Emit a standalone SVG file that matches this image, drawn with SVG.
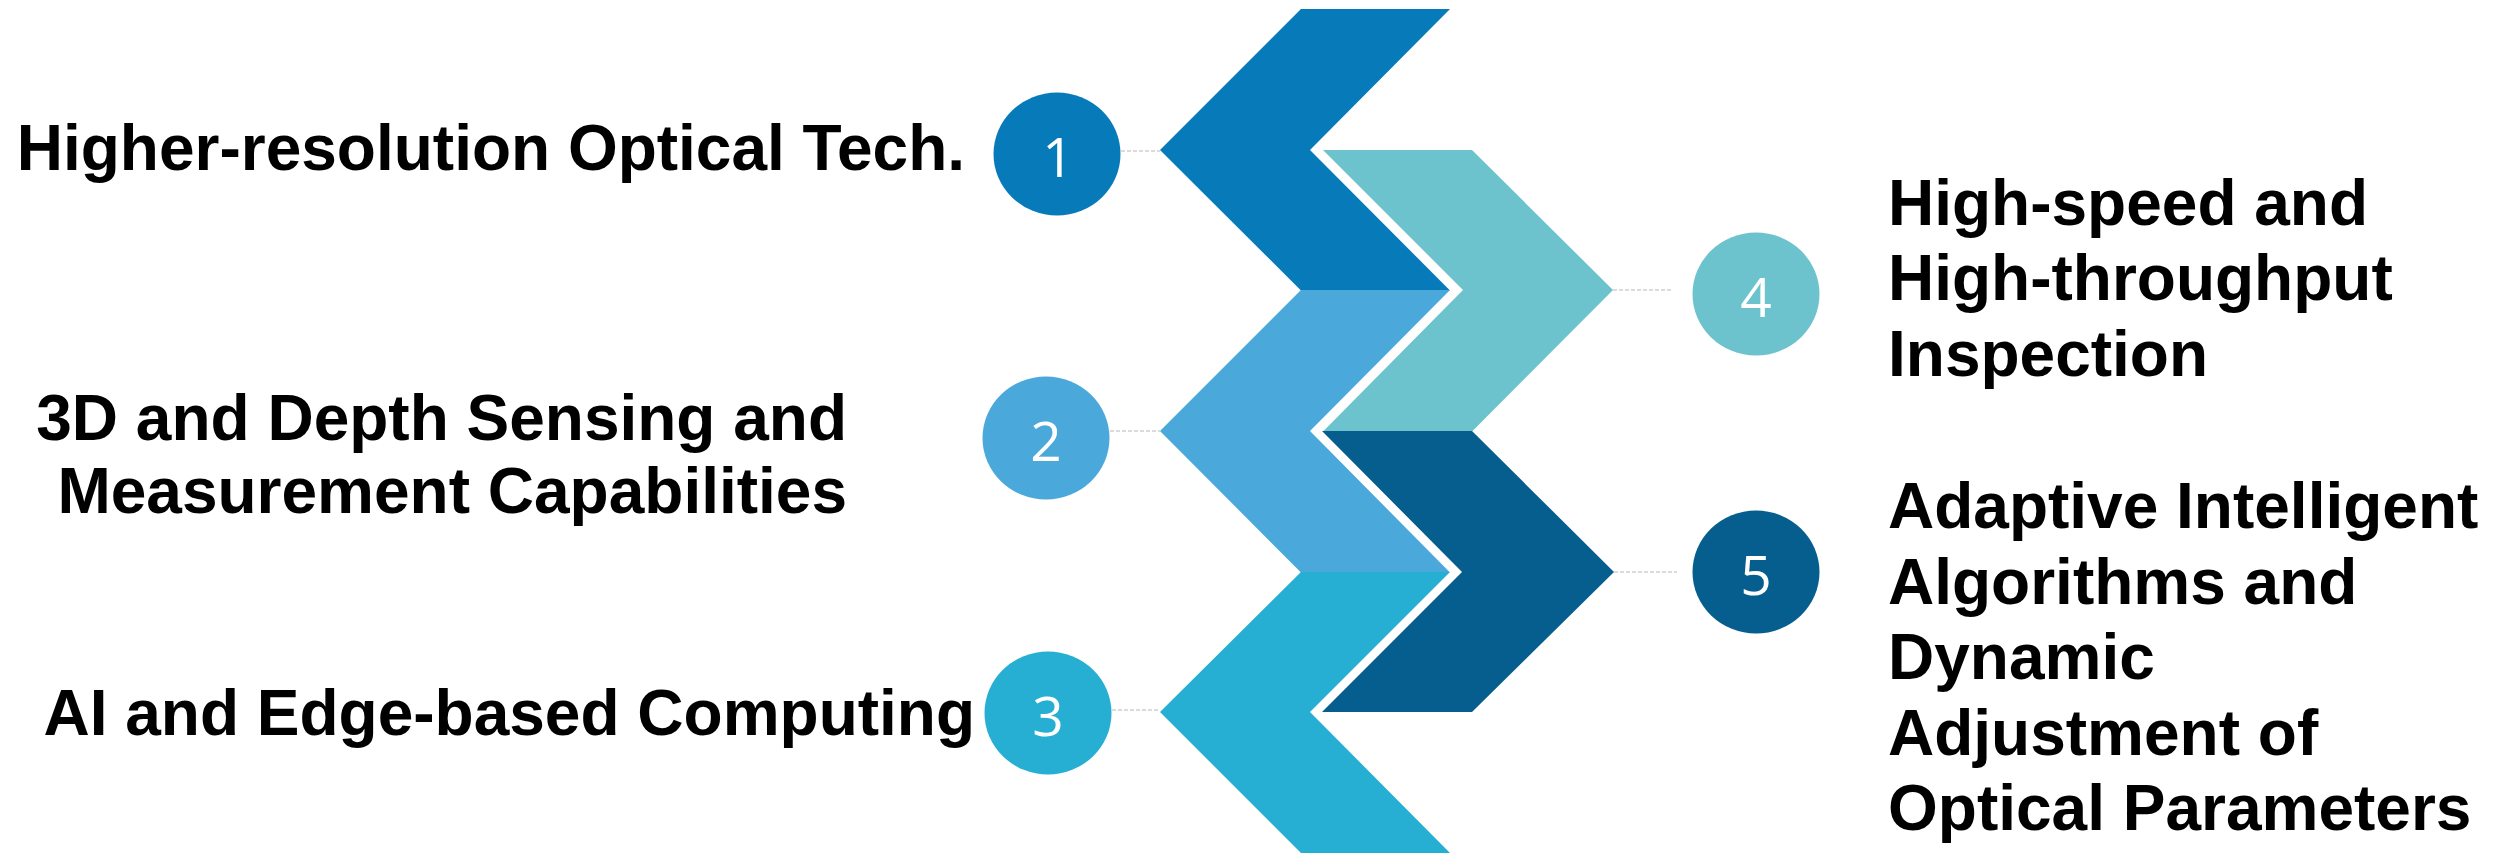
<svg xmlns="http://www.w3.org/2000/svg" width="2514" height="854" viewBox="0 0 2514 854">
<style>
.lbl{font-family:"Liberation Sans",Arial,sans-serif;font-weight:bold;font-size:64px;fill:#000}
.num{font-family:"Open Sans","Noto Sans",sans-serif;font-size:55px;fill:#fff;text-anchor:middle}
.conn{stroke:#D0D0D0;stroke-width:1.5;stroke-dasharray:4 2;fill:none}
</style>
<rect width="2514" height="854" fill="#fff"/>
<g id="connectors">
<line class="conn" x1="1121" y1="151" x2="1160" y2="151"/>
<line class="conn" x1="1110" y1="431" x2="1160" y2="431"/>
<line class="conn" x1="1112" y1="710" x2="1160" y2="710"/>
<line class="conn" x1="1613" y1="290" x2="1672" y2="290"/>
<line class="conn" x1="1614" y1="572" x2="1677" y2="572"/>
</g>
<g id="chevron1"><polygon fill="#077ABA" points="1301,9 1450,9 1310,150 1450,290.5 1301,290.5 1160,150"/></g>
<g id="chevron2"><polygon fill="#4BA8DB" points="1301,290 1450,290 1310,431 1450,572.5 1301,572.5 1160,431"/></g>
<g id="chevron3"><polygon fill="#26AFD2" points="1301,572 1450,572 1310,712 1450,853 1301,853 1160,712"/></g>
<g id="chevron4"><polygon fill="#6CC3CD" points="1323,150 1472,150 1613,290 1472,431.5 1323,431.5 1463,290"/></g>
<g id="chevron5"><polygon fill="#065E8E" points="1322,431 1472,431 1614,572 1472,712 1322,712 1462,572"/></g>
<g id="node1">
<ellipse cx="1057" cy="154" rx="63.5" ry="61.5" fill="#077ABA"/>
<text class="num" x="1058" y="177">1</text>
<text class="lbl" x="965" y="170" text-anchor="end">Higher-resolution Optical Tech.</text>
</g>
<g id="node2">
<ellipse cx="1046" cy="438" rx="63.5" ry="61.5" fill="#4BA8DB"/>
<text class="num" x="1046" y="461">2</text>
<text class="lbl" x="847" y="440" text-anchor="end">3D and Depth Sensing and</text>
<text class="lbl" x="847" y="513" text-anchor="end">Measurement Capabilities</text>
</g>
<g id="node3">
<ellipse cx="1048" cy="713" rx="63.5" ry="61.5" fill="#26AFD2"/>
<text class="num" x="1048" y="736">3</text>
<text class="lbl" x="975" y="735" text-anchor="end">AI and Edge-based Computing</text>
</g>
<g id="node4">
<ellipse cx="1756" cy="294" rx="63.5" ry="61.5" fill="#6CC3CD"/>
<text class="num" x="1756" y="317">4</text>
<text class="lbl" x="1888" y="225">High-speed and</text>
<text class="lbl" x="1888" y="300">High-throughput</text>
<text class="lbl" x="1888" y="376">Inspection</text>
</g>
<g id="node5">
<ellipse cx="1756" cy="572" rx="63.5" ry="61.5" fill="#065E8E"/>
<text class="num" x="1756" y="595">5</text>
<text class="lbl" x="1888" y="528">Adaptive Intelligent</text>
<text class="lbl" x="1888" y="604">Algorithms and</text>
<text class="lbl" x="1888" y="679">Dynamic</text>
<text class="lbl" x="1888" y="755">Adjustment of</text>
<text class="lbl" x="1888" y="830">Optical Parameters</text>
</g>
</svg>
